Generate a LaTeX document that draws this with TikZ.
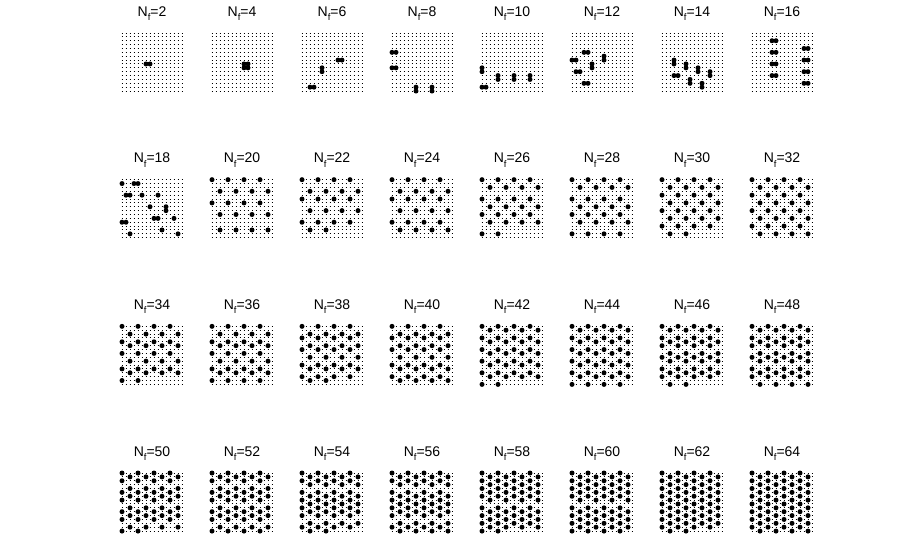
\documentclass[tikz,border=0pt]{standalone}
\usepackage{fontspec}
\setmainfont{Liberation Sans}
\tikzset{
  ttl/.style={font=\fontsize{14}{14}\selectfont, anchor=base, inner sep=0pt},
  griddots/.style={line width=1pt, dash pattern=on 1pt off 3pt},
}
\newcommand\panelgrid[3]{% i, r, N
  \pgfmathsetmacro\pxo{122+90*#1}
  \pgfmathsetmacro\pyo{33+146.67*#2}
  \begin{scope}[shift={(\pxo,\pyo)}]
    \foreach \rr in {0,...,15} {
      \draw[griddots] (-0.5,{\rr*3.87}) -- (60.5,{\rr*3.87});
    }
    \node[ttl] (t#3) at (30,-17) {N\raisebox{-0.6ex}{\fontsize{9.5}{9.5}\selectfont f}=#3};
  \end{scope}
}
\newcommand\paneldots[3]{% i, r, list c/r
  \pgfmathsetmacro\pxo{122+90*#1}
  \pgfmathsetmacro\pyo{33+146.67*#2}
  \begin{scope}[shift={(\pxo,\pyo)}, x=4pt, y=-3.87pt]
    \foreach \cc/\rr in {#3} { \fill (\cc,\rr) circle[radius=2.5pt]; }
  \end{scope}
}
\newcommand\pangen[3]{% i, r, N
  \pgfmathsetmacro\pxo{122+90*#1}
  \pgfmathsetmacro\pyo{33+146.67*#2}
  \pgfmathtruncatemacro\mm{ceil(#3/4)}
  \pgfmathtruncatemacro\mmm{\mm-1}
  \begin{scope}[shift={(\pxo,\pyo)}, x=4pt, y=-3.87pt]
    \foreach \k in {0,...,\mmm}{
      \pgfmathtruncatemacro\nk{min(4,#3-4*\k)-1}
      \pgfmathtruncatemacro\rk{round(\k*16/\mm)}
      \pgfmathtruncatemacro\ok{2*mod(\k,2)}
      \foreach \j in {0,...,\nk}{
        \fill ({4*\j+\ok},\rk) circle[radius=2.5pt];
      }
    }
  \end{scope}
}
\begin{document}
\begin{tikzpicture}[x=1pt,y=-1pt]
\useasboundingbox (0,0) rectangle (899,555);
\fill[white] (0,0) rectangle (899,555);
\foreach \r in {0,...,3}{
  \foreach \i in {0,...,7}{
    \pgfmathtruncatemacro\NN{2*(8*\r+\i+1)}
    \panelgrid{\i}{\r}{\NN}
  }
}
% row 1
\paneldots{0}{0}{6/8,7/8}
\paneldots{1}{0}{8/8,9/8,8/9,9/9}
\paneldots{2}{0}{9/7,10/7,5/9,5/10,2/14,3/14}
\paneldots{3}{0}{0/5,1/5,0/9,1/9,6/14,6/15,10/14,10/15}
\paneldots{4}{0}{0/9,0/10,4/11,4/12,8/11,8/12,12/11,12/12,0/14,1/14}
\paneldots{5}{0}{3/5,4/5,8/6,8/7,0/7,1/7,5/8,5/9,1/10,2/10,3/13,4/13}
\paneldots{6}{0}{3/7,3/8,6/8,6/9,9/9,9/10,12/10,12/11,3/11,4/11,7/12,7/13,10/13,10/14}
\paneldots{7}{0}{5/2,6/2,5/5,6/5,5/8,6/8,5/11,6/11,13/4,14/4,13/7,14/7,13/10,14/10,13/13,14/13}
% row 2
\paneldots{0}{1}{0/1,3/1,4/1,1/4,2/4,5/4,9/4,7/7,11/7,11/8,8/10,9/10,13/10,0/11,1/11,10/13,2/14,14/14}
\paneldots{1}{1}{0/0,4/0,8/0,12/0,2/3,6/3,10/3,14/3,0/6,4/6,8/6,12/6,2/9,6/9,10/9,14/9,2/13,6/13,10/13,14/13}
\pangen{2}{1}{22}
\pangen{3}{1}{24}
\pangen{4}{1}{26}
\pangen{5}{1}{28}
\pangen{6}{1}{30}
\pangen{7}{1}{32}
\pangen{0}{2}{34}
\pangen{1}{2}{36}
\pangen{2}{2}{38}
\pangen{3}{2}{40}
\pangen{4}{2}{42}
\pangen{5}{2}{44}
\pangen{6}{2}{46}
\pangen{7}{2}{48}
\pangen{0}{3}{50}
\pangen{1}{3}{52}
\pangen{2}{3}{54}
\pangen{3}{3}{56}
\pangen{4}{3}{58}
\pangen{5}{3}{60}
\pangen{6}{3}{62}
\pangen{7}{3}{64}
\end{tikzpicture}
\end{document}
